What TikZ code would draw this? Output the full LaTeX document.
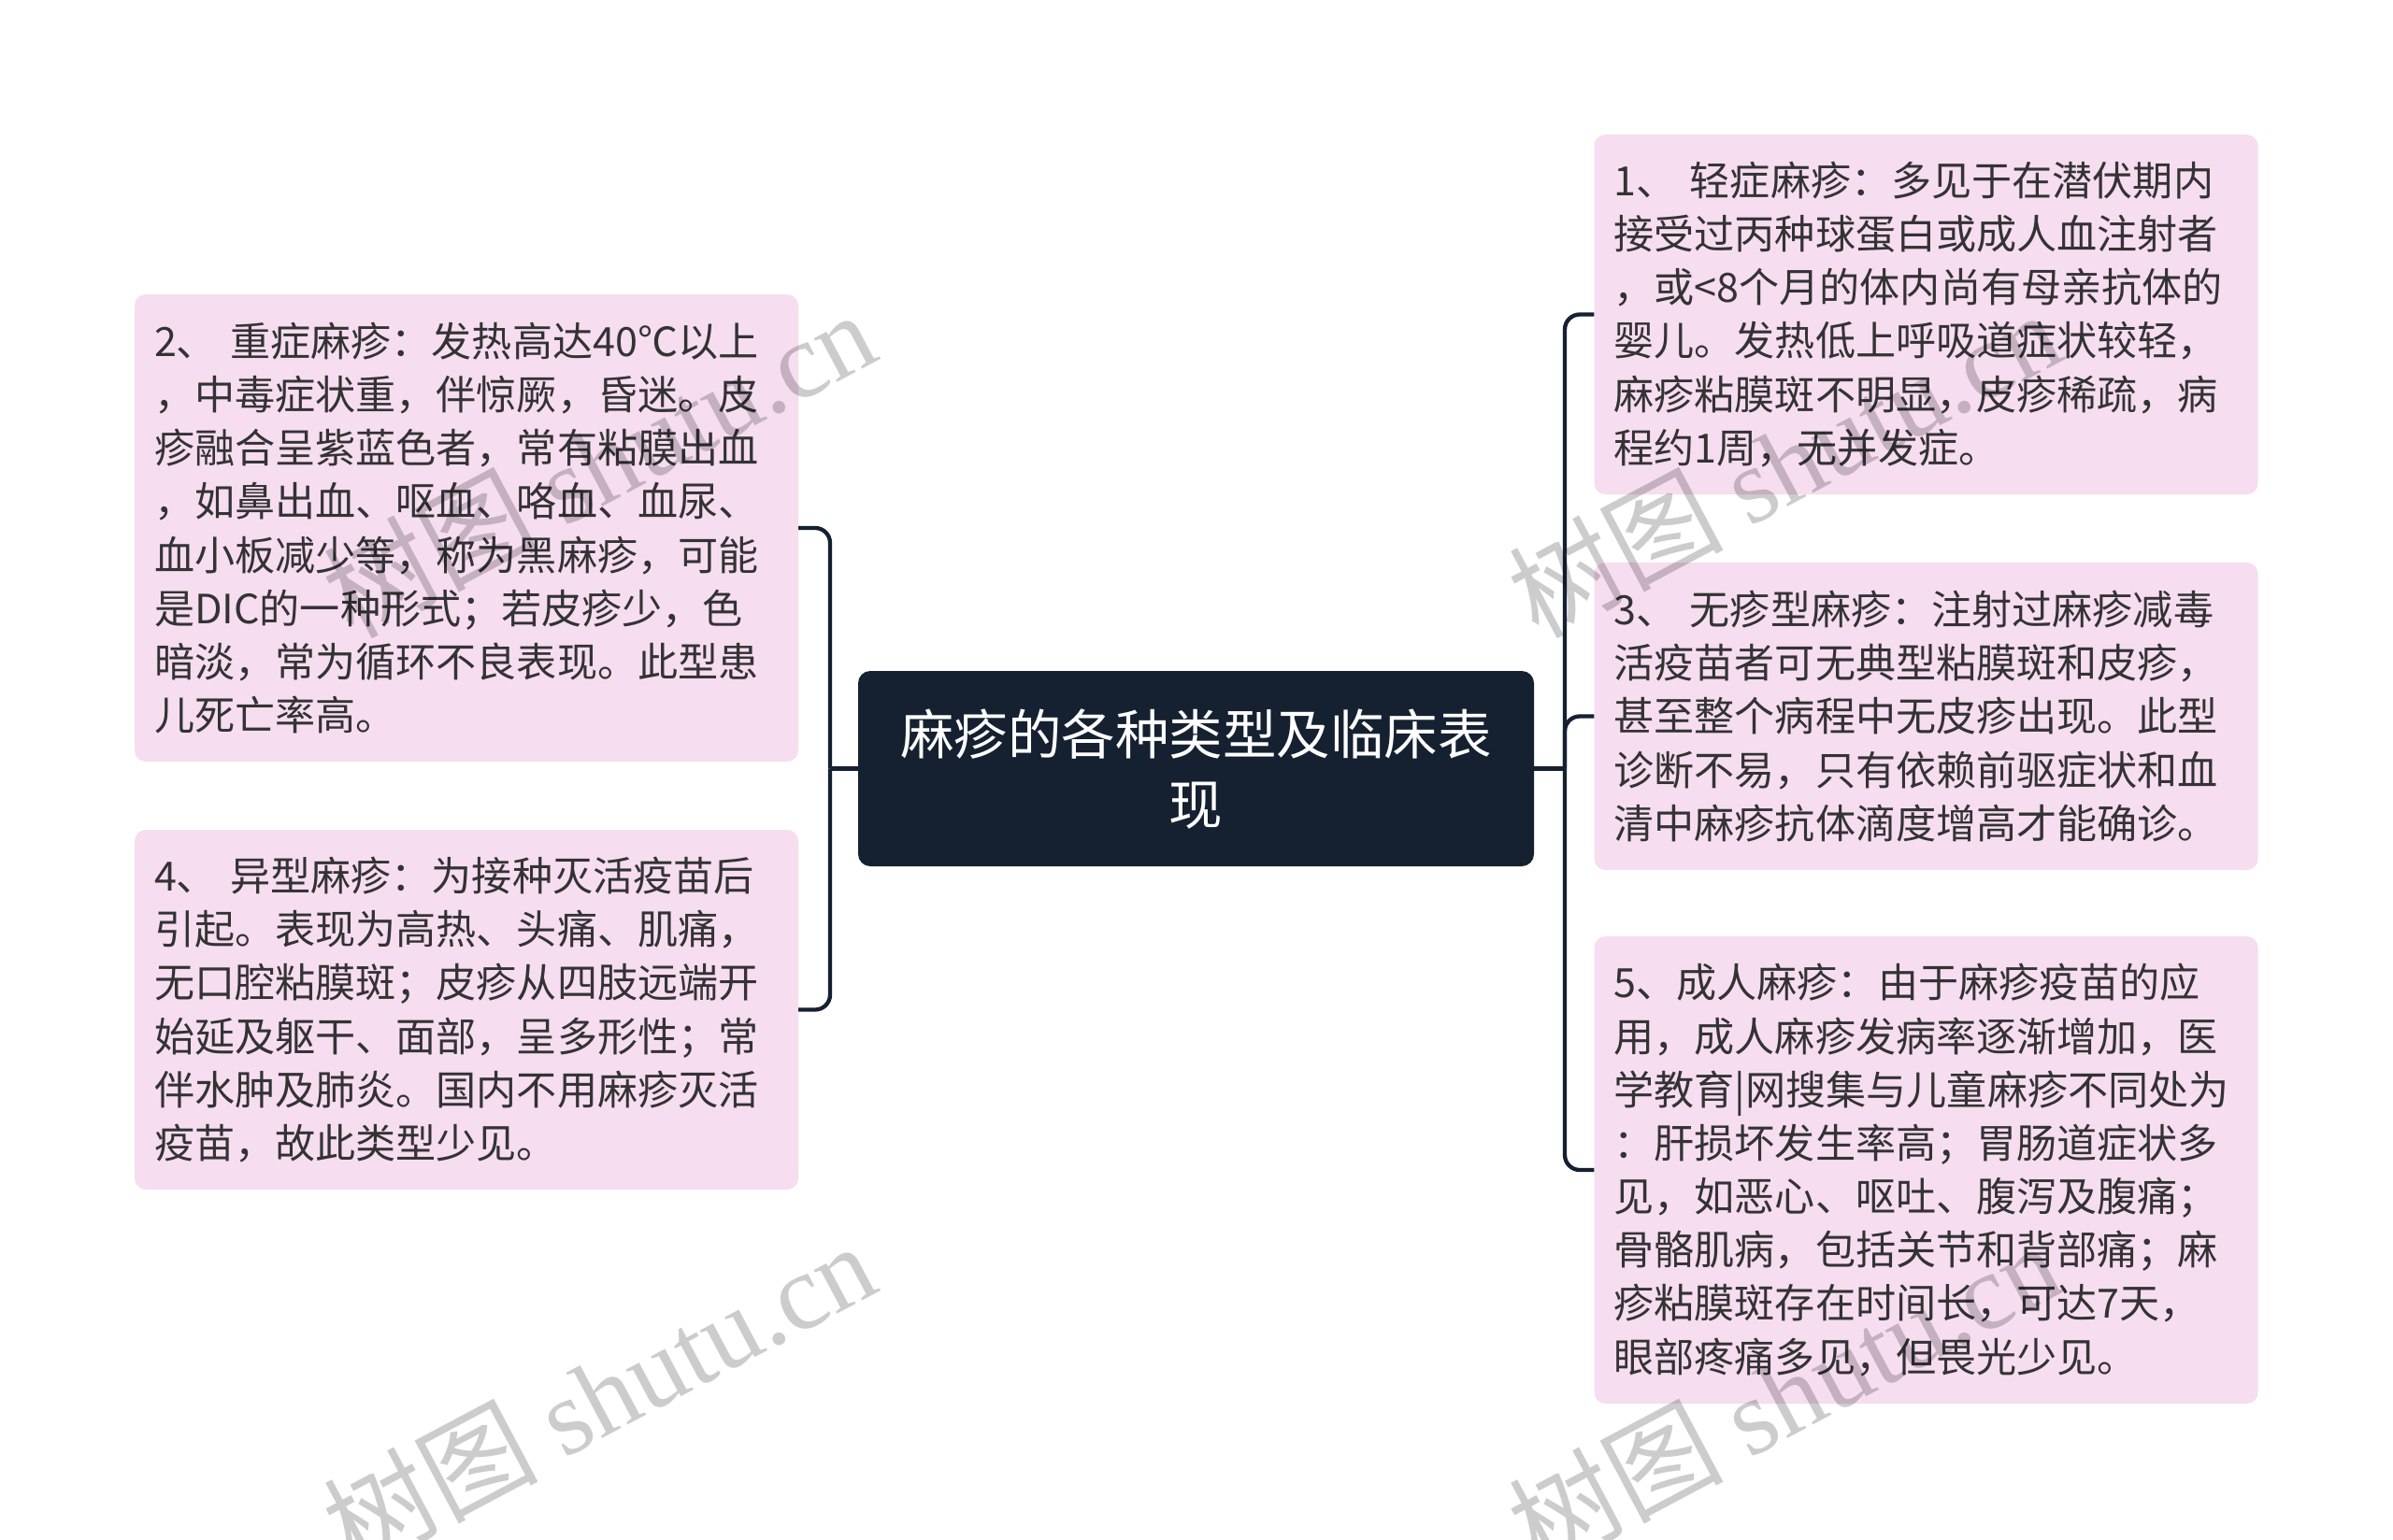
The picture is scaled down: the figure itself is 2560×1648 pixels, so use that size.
\documentclass[tikz,border=0pt]{standalone}
\usepackage{fontspec}
\setmainfont{Noto Sans CJK SC}
\newfontfamily\wmserif{Liberation Serif}
\usetikzlibrary{calc}
\definecolor{boxpink}{RGB}{246,221,240}
\definecolor{navy}{RGB}{21,33,48}
\definecolor{txt}{RGB}{51,51,51}
\tikzset{
  leaf/.style={fill=boxpink, rounded corners=12pt, text=txt, align=left,
    inner xsep=21pt, inner ysep=0pt, text width=668pt,
    font=\fontsize{43.1}{57.15}\selectfont, anchor=center},
  root/.style={fill=navy, rounded corners=13pt, text=white, align=center,
    minimum width=723pt, minimum height=209pt, inner sep=0pt,
    font=\fontsize{57.5}{75}\selectfont, anchor=center},
  conn/.style={draw=navy, line width=4.3pt},
  wm/.style={text=black, text opacity=0.2, rotate=28, anchor=base west,
    inner sep=0pt, font=\fontsize{115}{115}\selectfont}
}
\begin{document}
\begin{tikzpicture}[x=1pt,y=-1pt]
\useasboundingbox[fill=white] (0,0) rectangle (2560,1648);

\node[root] (c) at (1279.5,822.5) {麻疹的各种类型及临床表\\现};

\node[leaf, minimum height=500pt] (b2) at (499,565) {2、 重症麻疹：发热高达40℃以上\\，中毒症状重，伴惊厥，昏迷。皮\\疹融合呈紫蓝色者，常有粘膜出血\\，如鼻出血、呕血、咯血、血尿、\\血小板减少等，称为黑麻疹，可能\\是DIC的一种形式；若皮疹少，色\\暗淡，常为循环不良表现。此型患\\儿死亡率高。};

\node[leaf, minimum height=385pt] (b4) at (499,1080.5) {4、 异型麻疹：为接种灭活疫苗后\\引起。表现为高热、头痛、肌痛，\\无口腔粘膜斑；皮疹从四肢远端开\\始延及躯干、面部，呈多形性；常\\伴水肿及肺炎。国内不用麻疹灭活\\疫苗，故此类型少见。};

\node[leaf, minimum height=385pt] (b1) at (2060.5,336.5) {1、 轻症麻疹：多见于在潜伏期内\\接受过丙种球蛋白或成人血注射者\\，或<8个月的体内尚有母亲抗体的\\婴儿。发热低上呼吸道症状较轻，\\麻疹粘膜斑不明显，皮疹稀疏，病\\程约1周，无并发症。};

\node[leaf, minimum height=329pt] (b3) at (2060.5,766.5) {3、 无疹型麻疹：注射过麻疹减毒\\活疫苗者可无典型粘膜斑和皮疹，\\甚至整个病程中无皮疹出现。此型\\诊断不易，只有依赖前驱症状和血\\清中麻疹抗体滴度增高才能确诊。};

\node[leaf, minimum height=500pt] (b5) at (2060.5,1252) {5、成人麻疹：由于麻疹疫苗的应\\用，成人麻疹发病率逐渐增加，医\\学教育|网搜集与儿童麻疹不同处为\\：肝损坏发生率高；胃肠道症状多\\见，如恶心、呕吐、腹泻及腹痛；\\骨骼肌病，包括关节和背部痛；麻\\疹粘膜斑存在时间长，可达7天，\\眼部疼痛多见，但畏光少见。};

\coordinate (jl) at (888,822.5);
\coordinate (jr) at (1674,822.5);

\draw[conn] (c.west) -- (jl);
\draw[conn, rounded corners=16pt] (jl) |- (b2.east);
\draw[conn, rounded corners=16pt] (jl) |- (b4.east);
\draw[conn] (c.east) -- (jr);
\draw[conn, rounded corners=16pt] (jr) |- (b1.west);
\draw[conn, rounded corners=16pt] (jr) |- (b3.west);
\draw[conn, rounded corners=16pt] (jr) |- (b5.west);

\node[wm] (w1) at (377,685) {树图 {\wmserif shutu.cn}};
\node[wm] (w2) at (1645,685) {树图 {\wmserif shutu.cn}};
\node[wm] (w3) at (377,1682) {树图 {\wmserif shutu.cn}};
\node[wm] (w4) at (1645,1682) {树图 {\wmserif shutu.cn}};
\end{tikzpicture}
\end{document}
